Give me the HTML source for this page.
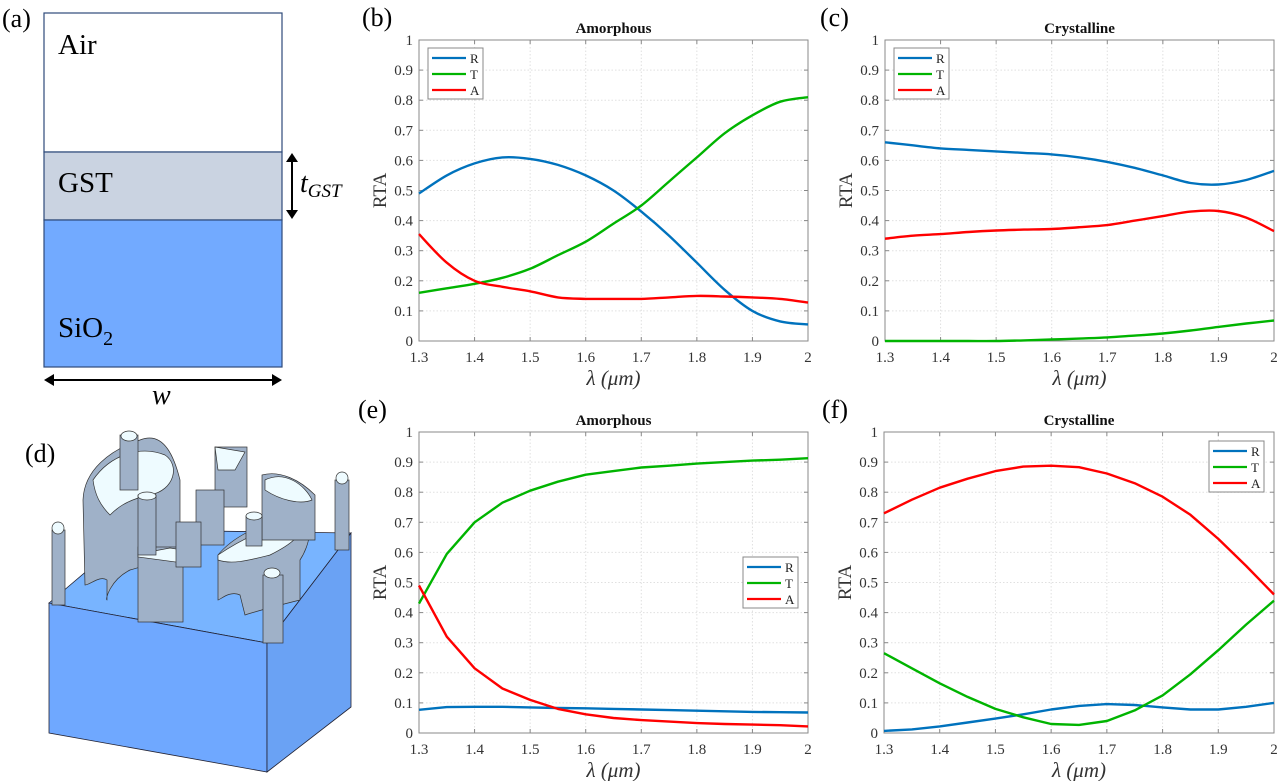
<!DOCTYPE html>
<html><head><meta charset="utf-8"><style>
html,body{margin:0;padding:0;background:#fff;}
svg{display:block;}
</style></head><body>
<svg id="fig" width="1280" height="781" viewBox="0 0 1280 781" xmlns="http://www.w3.org/2000/svg" font-family="Liberation Serif, serif">
<g>
  <text x="2" y="27" font-size="26">(a)</text>
  <rect x="44" y="13" width="238" height="139" fill="#fff" stroke="#2e4a7a" stroke-width="1.2"/>
  <rect x="44" y="152" width="238" height="68" fill="#cad3e1" stroke="#2e4a7a" stroke-width="1.2"/>
  <rect x="44" y="220" width="238" height="147" fill="#72aaff" stroke="#2e4a7a" stroke-width="1.2"/>
  <text x="58" y="54" font-size="29">Air</text>
  <text x="58" y="192" font-size="29">GST</text>
  <text x="58" y="337" font-size="29">SiO<tspan font-size="20" dy="8">2</tspan></text>
  <g stroke="#000" stroke-width="2" fill="#000">
    <line x1="292" y1="160" x2="292" y2="212"/>
    <path d="M286,162 L292,153 L298,162 Z" stroke="none"/>
    <path d="M286,210 L292,219 L298,210 Z" stroke="none"/>
  </g>
  <text x="300" y="192" font-size="28" font-style="italic">t<tspan font-size="19" dy="5">GST</tspan></text>
  <g stroke="#000" stroke-width="2" fill="#000">
    <line x1="52" y1="380" x2="274" y2="380"/>
    <path d="M54,374 L44,380 L54,386 Z" stroke="none"/>
    <path d="M272,374 L282,380 L272,386 Z" stroke="none"/>
  </g>
  <text x="152" y="404" font-size="28" font-style="italic">w</text>
</g>
<g>
  <text x="25" y="462" font-size="26">(d)</text>
  <path d="M49,603 L135,530 L351,533 L267,643 Z" fill="#78b4ff" stroke="#223" stroke-width="0.8"/>
  <path d="M49,603 L267,643 L267,772 L49,733 Z" fill="#6fa8ff" stroke="#223" stroke-width="0.8"/>
  <path d="M267,643 L351,533 L351,707 L267,772 Z" fill="#6aa2f4" stroke="#223" stroke-width="0.8"/>
  <g stroke="#333" stroke-width="0.7">
    <path d="M83,500 C84,470 110,450 140,440 C165,430 175,460 180,480 L180,560 C170,555 150,565 130,570 C110,580 105,600 107,600 L107,580 C100,575 90,585 85,585 Z" fill="#9fb1c8"/>
    <path d="M93,480 C110,455 140,445 165,455 C180,465 175,490 150,495 C125,500 115,510 110,515 C100,505 95,495 93,480 Z" fill="#eefbff"/>
    <path d="M218,555 C230,540 260,520 300,518 C315,520 310,545 300,560 L300,600 C280,605 260,610 245,615 L240,595 C230,590 220,600 218,600 Z" fill="#9fb1c8"/>
    <path d="M218,555 C240,540 270,525 300,520 C305,535 290,545 270,555 C250,560 232,565 218,560 Z" fill="#eefbff"/>
    <path d="M262,475 C280,470 300,480 315,495 L315,540 L262,540 Z" fill="#9fb1c8"/>
    <path d="M265,480 C285,470 305,485 312,500 C300,505 280,500 265,490 Z" fill="#eefbff"/>
    <rect x="138" y="547" width="45" height="75" fill="#9fb1c8"/>
    <path d="M138,554 L170,548 L183,550 L183,563 L138,557 Z" fill="#eefbff"/>
    <rect x="215" y="447" width="32" height="60" fill="#9fb1c8"/>
    <path d="M215,447 L245,452 L235,470 L218,470 Z" fill="#eefbff"/>
    <rect x="196" y="490" width="28" height="55" fill="#9fb1c8"/>
    <rect x="176" y="522" width="25" height="45" fill="#9fb1c8"/>
    <rect x="138" y="495" width="18" height="60" fill="#9fb1c8"/>
    <ellipse cx="147" cy="496" rx="9" ry="4" fill="#eefbff"/>
    <rect x="246" y="516" width="16" height="30" fill="#9fb1c8"/>
    <ellipse cx="254" cy="516" rx="8" ry="4" fill="#eefbff"/>
    <rect x="120" y="435" width="18" height="55" fill="#9fb1c8"/>
    <ellipse cx="129" cy="436" rx="8" ry="5" fill="#eefbff"/>
    <rect x="52" y="530" width="13" height="75" fill="#9fb1c8"/>
    <ellipse cx="58" cy="528" rx="6" ry="6" fill="#eefbff"/>
    <rect x="335" y="480" width="14" height="70" fill="#9fb1c8"/>
    <ellipse cx="342" cy="478" rx="6" ry="6" fill="#eefbff"/>
    <rect x="263" y="575" width="20" height="68" fill="#9fb1c8"/>
    <ellipse cx="272" cy="573" rx="8" ry="5" fill="#eefbff"/>
  </g>
</g>
<g id="charts"></g>
</svg>
<script>
const wavelengths=[1.3,1.35,1.4,1.45,1.5,1.55,1.6,1.65,1.7,1.75,1.8,1.85,1.9,1.95,2.0];
const xTicks=[1.3,1.4,1.5,1.6,1.7,1.8,1.9,2];
const xTickLabels=["1.3","1.4","1.5","1.6","1.7","1.8","1.9","2"];
const yTicks=[0,0.1,0.2,0.3,0.4,0.5,0.6,0.7,0.8,0.9,1];
const yTickLabels=["0","0.1","0.2","0.3","0.4","0.5","0.6","0.7","0.8","0.9","1"];
const seriesNames=["R","T","A"];
const bR=[.49,.55,.59,.61,.605,.585,.55,.5,.43,.35,.26,.17,.1,.065,.055];
const bT=[.16,.175,.19,.21,.24,.285,.33,.39,.45,.53,.61,.69,.75,.795,.81];
const bA=[.355,.26,.2,.18,.165,.145,.14,.14,.14,.145,.15,.148,.145,.14,.128];
const cR=[.66,.65,.64,.635,.63,.625,.62,.61,.595,.575,.55,.525,.52,.535,.565];
const cT=[0,0,0,0,0,.002,.005,.008,.012,.018,.025,.035,.047,.058,.068];
const cA=[.34,.35,.355,.362,.367,.37,.372,.378,.385,.4,.415,.43,.432,.41,.365];
const eR=[.077,.086,.087,.087,.085,.083,.082,.08,.078,.076,.074,.072,.07,.069,.068];
const eT=[.43,.595,.70,.765,.805,.835,.858,.87,.882,.888,.895,.9,.905,.908,.913];
const eA=[.49,.32,.215,.148,.11,.08,.062,.05,.043,.038,.033,.03,.028,.026,.022];
const fR=[.007,.012,.022,.035,.048,.062,.078,.09,.096,.093,.085,.078,.078,.087,.1];
const fT=[.265,.215,.165,.12,.08,.052,.03,.027,.04,.075,.125,.195,.275,.36,.44];
const fA=[.73,.775,.815,.845,.87,.885,.888,.883,.862,.83,.785,.725,.645,.555,.46];

const NS="http://www.w3.org/2000/svg";
const colors=["#0072bd","#00b400","#ff0000"];
function mk(tag,attrs,parent){const e=document.createElementNS(NS,tag);for(const k in attrs)e.setAttribute(k,attrs[k]);parent.appendChild(e);return e;}
function smoothPath(pts){
 let d='M'+pts[0][0].toFixed(1)+','+pts[0][1].toFixed(1);
 for(let i=0;i<pts.length-1;i++){
  const p0=pts[Math.max(0,i-1)],p1=pts[i],p2=pts[i+1],p3=pts[Math.min(pts.length-1,i+2)];
  const c1=[p1[0]+(p2[0]-p0[0])/6,p1[1]+(p2[1]-p0[1])/6];
  const c2=[p2[0]-(p3[0]-p1[0])/6,p2[1]-(p3[1]-p1[1])/6];
  d+=` C${c1[0].toFixed(1)},${c1[1].toFixed(1)} ${c2[0].toFixed(1)},${c2[1].toFixed(1)} ${p2[0].toFixed(1)},${p2[1].toFixed(1)}`;
 }
 return d;
}
const root=document.getElementById('charts');
const panels=[
 {id:'b',label:'(b)',title:'Amorphous',x0:419,x1:808,y0:40,y1:341,lx:362,data:[bR,bT,bA],leg:[428,48],smooth:true},
 {id:'c',label:'(c)',title:'Crystalline',x0:885,x1:1274,y0:40,y1:341,lx:820,data:[cR,cT,cA],leg:[894,48],smooth:true},
 {id:'e',label:'(e)',title:'Amorphous',x0:419,x1:808,y0:432,y1:733,lx:358,data:[eR,eT,eA],leg:[743,557],smooth:false},
 {id:'f',label:'(f)',title:'Crystalline',x0:884,x1:1274,y0:432,y1:733,lx:822,data:[fR,fT,fA],leg:[1209,441],smooth:false}
];
panels.forEach(p=>{
 const g=mk('g',{},root);
 
 
 const xs=v=>p.x0+(v-1.3)/0.7*(p.x1-p.x0);
 const ys=v=>p.y1-v*(p.y1-p.y0);
 const lab=mk('text',{x:p.lx,y:p.y0-14,'font-size':26},g);lab.textContent=p.label;
 
 
 const t=mk('text',{x:(p.x0+p.x1)/2,y:p.y0-7,'font-size':15,'font-weight':'bold','text-anchor':'middle',fill:'#111'},g);t.textContent=p.title;
 
 
 xTicks.forEach((v,i)=>{
  const x=xs(v);
  if(i>0&&i<xTicks.length-1){const gl=mk('line',{x1:x,x2:x,y1:p.y0,y2:p.y1,stroke:'#e0e0e0','stroke-dasharray':'1.5,2'},g);
   }
  mk('line',{x1:x,x2:x,y1:p.y1,y2:p.y1-4,stroke:'#888'},g);
  mk('line',{x1:x,x2:x,y1:p.y0,y2:p.y0+4,stroke:'#888'},g);
  const tl=mk('text',{x:x,y:p.y1+21,'font-size':15,'text-anchor':'middle',fill:'#333'},g);tl.textContent=xTickLabels[i];
  
  
 });
 yTicks.forEach((v,i)=>{
  const y=ys(v);
  if(i>0&&i<yTicks.length-1){const gl=mk('line',{x1:p.x0,x2:p.x1,y1:y,y2:y,stroke:'#e0e0e0','stroke-dasharray':'1.5,2'},g);
   }
  mk('line',{x1:p.x0,x2:p.x0+4,y1:y,y2:y,stroke:'#888'},g);
  mk('line',{x1:p.x1,x2:p.x1-4,y1:y,y2:y,stroke:'#888'},g);
  const tl=mk('text',{x:p.x0-6,y:y+5,'font-size':15,'text-anchor':'end',fill:'#333'},g);tl.textContent=yTickLabels[i];
  
  
 });
 const box=mk('rect',{x:p.x0,y:p.y0,width:p.x1-p.x0,height:p.y1-p.y0,fill:'none',stroke:'#8a8a8a','stroke-width':1},g);
 
 
 const yl=mk('text',{x:0,y:0,'font-size':19,'text-anchor':'middle',fill:'#333',transform:`translate(${p.x0-33},${(p.y0+p.y1)/2}) rotate(-90)`},g);yl.textContent='RTA';
 
 
 const xl=mk('text',{x:(p.x0+p.x1)/2,y:p.y1+44,'font-size':21,'font-style':'italic','text-anchor':'middle',fill:'#333'},g);xl.textContent='λ  (μm)';
 
 
 p.data.forEach((arr,si)=>{
  const pts=arr.map((v,i)=>[xs(wavelengths[i]),ys(v)]);
  const d=p.smooth?smoothPath(pts):pts.map((q,i)=>(i?'L':'M')+q[0].toFixed(1)+','+q[1].toFixed(1)).join(' ');
  const pl=mk('path',{d:d,fill:'none',stroke:colors[si],'stroke-width':2.4,'stroke-linejoin':'round'},g);
  
  
 });
 const lg=mk('g',{},g);
 
 
 const [lx,ly]=p.leg;
 mk('rect',{x:lx,y:ly,width:55,height:51,fill:'#fff',stroke:'#888'},lg);
 seriesNames.forEach((n,si)=>{
  const yy=ly+10+si*16;
  const ln=mk('line',{x1:lx+4,x2:lx+38,y1:yy,y2:yy,stroke:colors[si],'stroke-width':2.2},lg);
  
  
  const tx=mk('text',{x:lx+42,y:yy+5,'font-size':13,fill:'#222'},lg);tx.textContent=n;
  
  
 });
});
</script>
</body></html>
